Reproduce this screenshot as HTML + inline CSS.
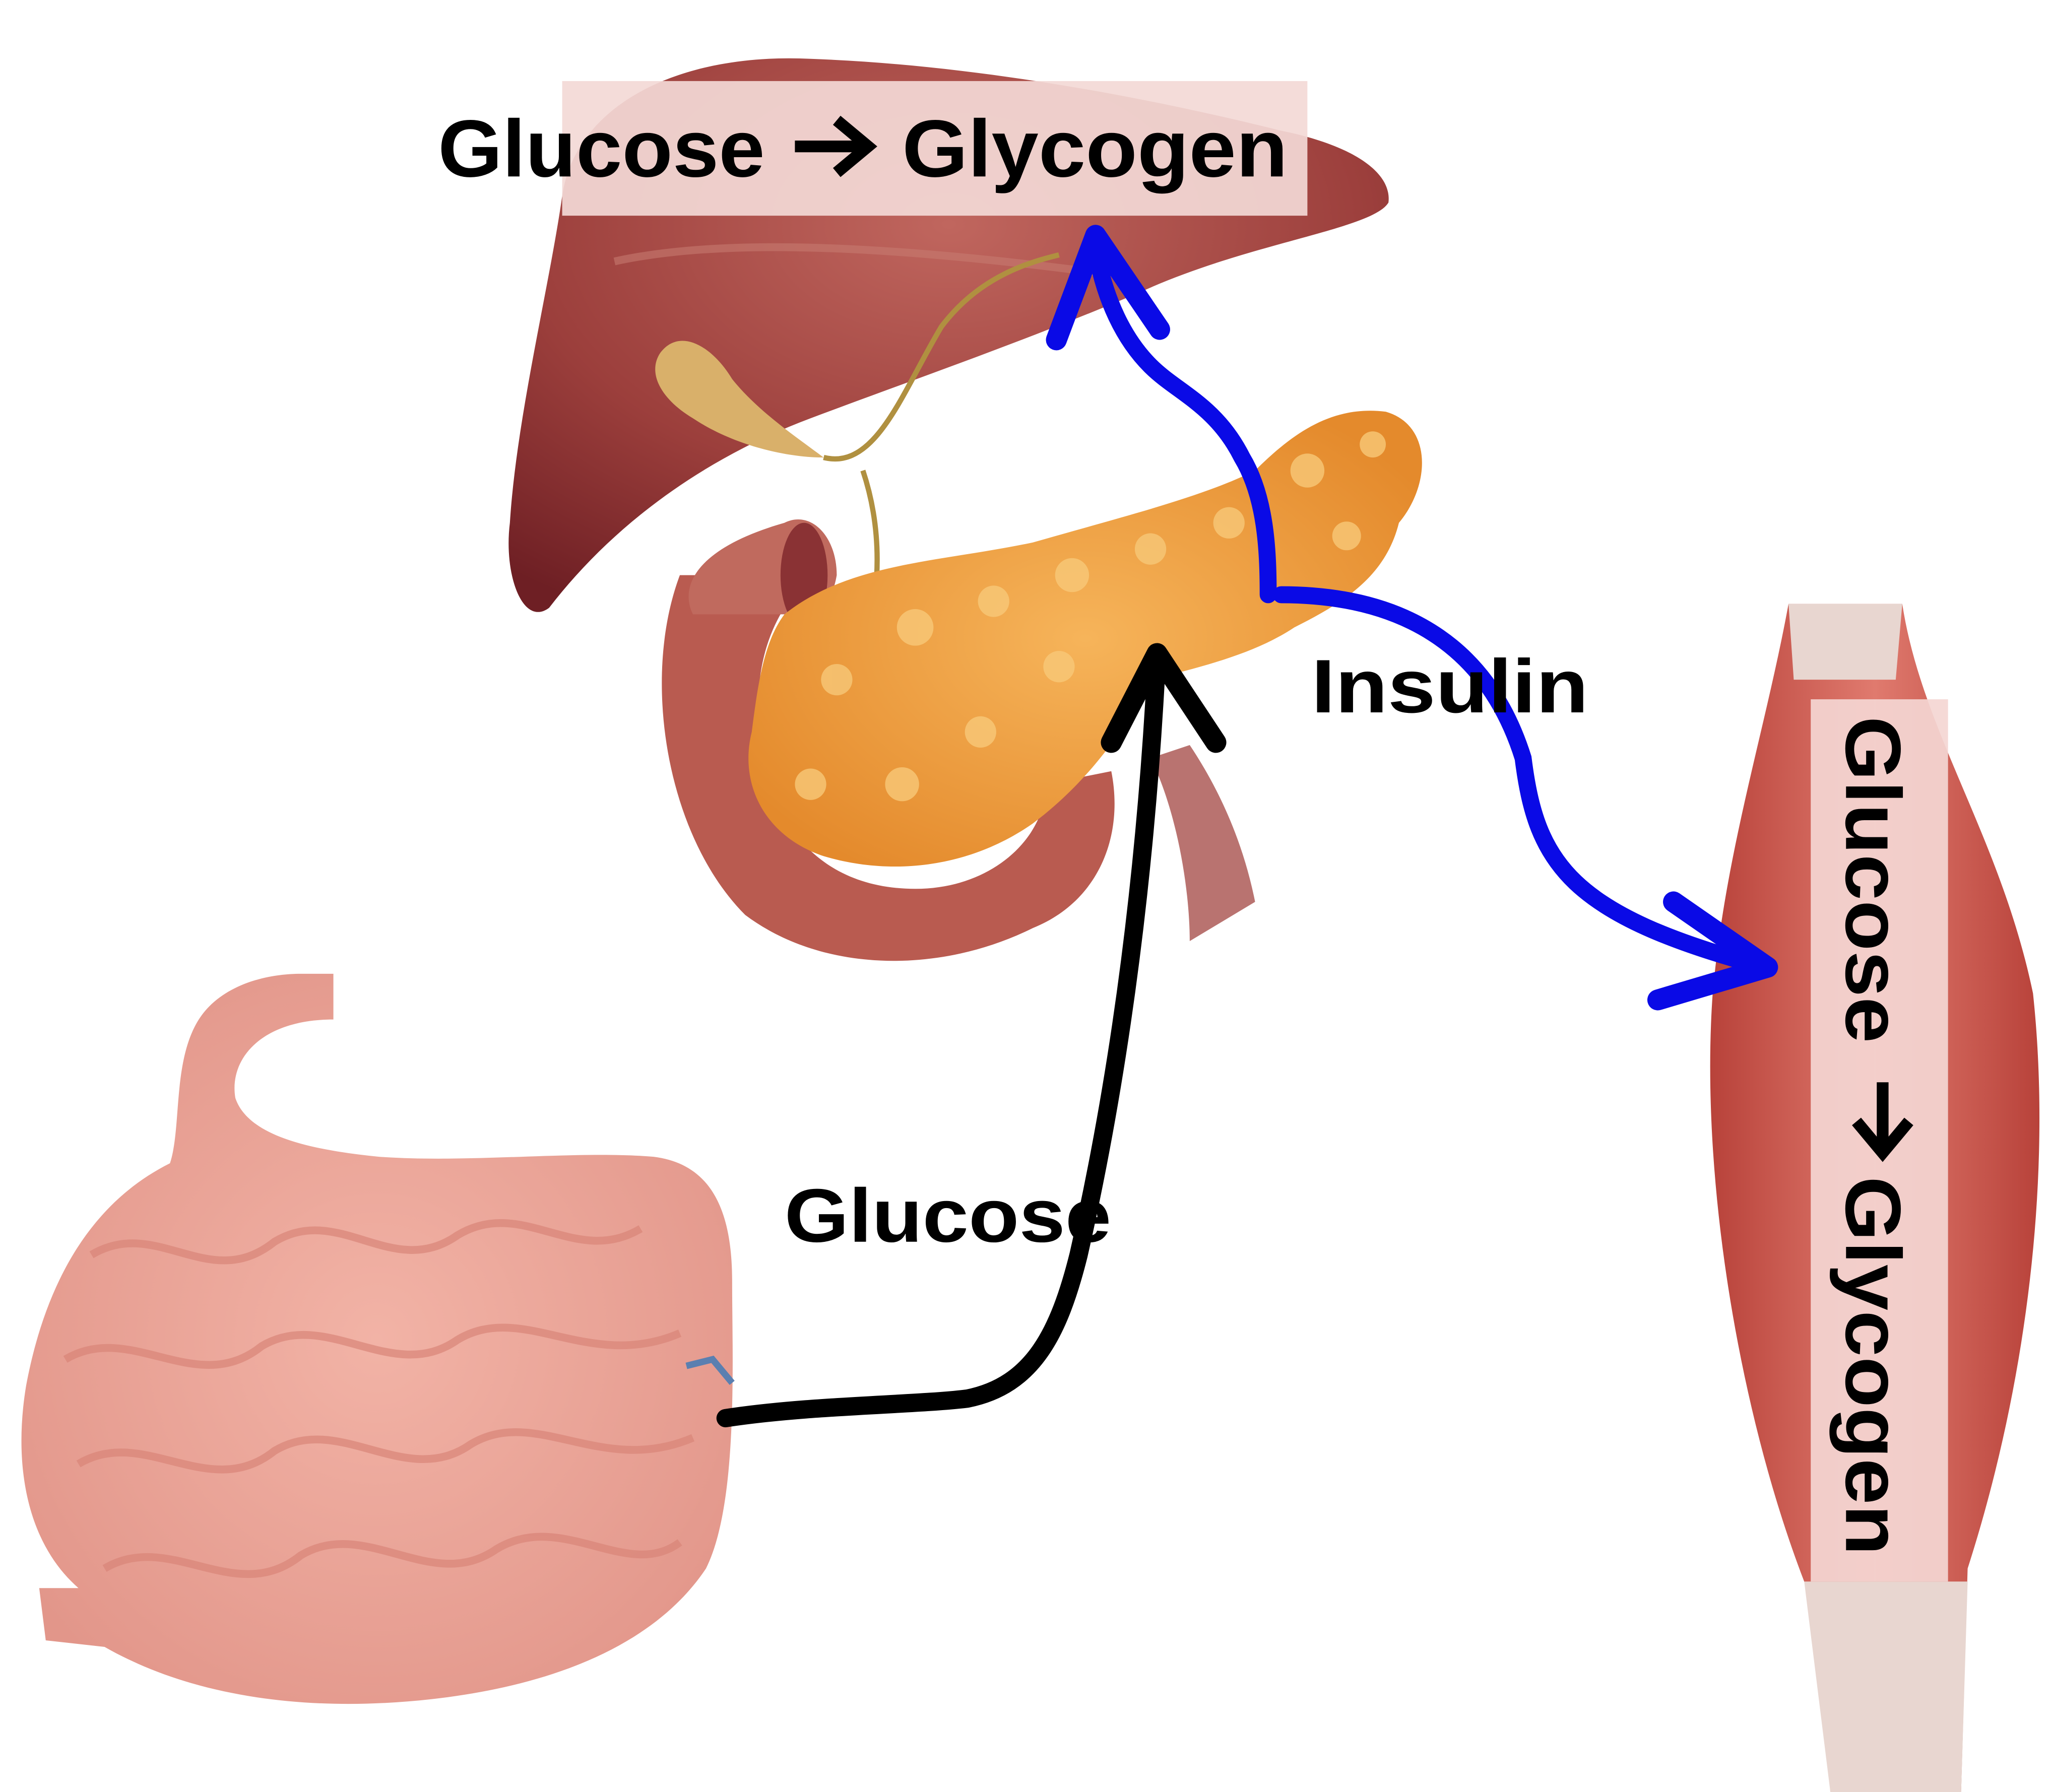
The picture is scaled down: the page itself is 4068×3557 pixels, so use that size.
<!DOCTYPE html>
<html><head><meta charset="utf-8">
<style>
html,body{margin:0;padding:0;background:#fff;}
svg{display:block;}
text{font-family:"Liberation Sans","DejaVu Sans",sans-serif;font-weight:bold;fill:#000;}
</style></head>
<body>
<svg width="4068" height="3557" viewBox="0 0 1568 1371" xmlns="http://www.w3.org/2000/svg">
<defs>
<radialGradient id="liv" cx="0.5" cy="0.3" r="0.8">
<stop offset="0" stop-color="#c0665e"/><stop offset="0.6" stop-color="#9c3f3c"/><stop offset="1" stop-color="#6e1f24"/>
</radialGradient>
<radialGradient id="pan" cx="0.5" cy="0.5" r="0.6">
<stop offset="0" stop-color="#f6b45a"/><stop offset="1" stop-color="#e48a2c"/>
</radialGradient>
<linearGradient id="mus" x1="0" x2="1">
<stop offset="0" stop-color="#b8423a"/><stop offset="0.5" stop-color="#e07a6e"/><stop offset="1" stop-color="#b8423a"/>
</linearGradient>
<radialGradient id="int" cx="0.5" cy="0.5" r="0.6">
<stop offset="0" stop-color="#f2b3a6"/><stop offset="1" stop-color="#e2968a"/>
</radialGradient>
</defs>

<!-- liver -->
<path d="M430 150 C440 80 520 40 620 45 C760 50 900 80 980 100 C1030 110 1065 130 1062 155 C1050 175 960 185 880 220 C800 255 700 290 620 320 C540 350 470 400 420 465 C400 480 385 440 390 400 C395 320 420 220 430 150 Z" fill="url(#liv)"/>
<path d="M470 200 C560 180 700 190 850 210" stroke="#c77a70" stroke-width="6" fill="none" opacity="0.6"/>
<!-- gallbladder -->
<path d="M505 270 C520 250 545 265 560 290 C580 315 610 335 630 350 C600 350 560 340 530 320 C505 305 495 285 505 270 Z" fill="#d9b06a"/>
<path d="M630 350 C670 360 690 300 720 250 C750 210 790 200 810 195" stroke="#b09040" stroke-width="4" fill="none"/>
<path d="M660 360 C680 420 670 480 650 530" stroke="#b09040" stroke-width="4" fill="none"/>

<!-- duodenum -->
<path d="M520 440 C490 520 510 640 570 700 C630 745 720 745 790 710 C840 690 860 640 850 590 L800 600 C800 640 760 680 700 680 C620 680 580 620 580 540 C580 490 600 460 620 440 Z" fill="#b95b50"/>
<path d="M600 400 C620 390 640 410 640 440 C635 470 615 480 600 470 L530 470 C520 450 530 420 600 400 Z" fill="#c06a5e"/>
<ellipse cx="615" cy="440" rx="18" ry="40" fill="#8a3234"/>
<path d="M880 580 C900 620 910 680 910 720 L960 690 C950 640 930 600 910 570 Z" fill="#a8504c" opacity="0.8"/>

<!-- pancreas -->
<path d="M600 470 C650 430 720 430 790 415 C860 395 920 380 960 360 C990 330 1020 310 1060 315 C1095 325 1095 370 1070 400 C1060 440 1030 460 990 480 C960 500 920 510 880 520 C860 560 830 600 790 630 C740 665 680 670 630 655 C585 640 565 600 575 560 C580 520 585 490 600 470 Z" fill="url(#pan)"/>
<g fill="#f7c878" opacity="0.8">
<circle cx="640" cy="520" r="12"/><circle cx="700" cy="480" r="14"/><circle cx="760" cy="460" r="12"/><circle cx="820" cy="440" r="13"/><circle cx="880" cy="420" r="12"/><circle cx="940" cy="400" r="12"/><circle cx="1000" cy="360" r="13"/><circle cx="1050" cy="340" r="10"/><circle cx="620" cy="600" r="12"/><circle cx="690" cy="600" r="13"/><circle cx="750" cy="560" r="12"/><circle cx="810" cy="510" r="12"/><circle cx="1030" cy="410" r="11"/>
</g>

<!-- liver label box -->
<rect x="430" y="62" width="570" height="103" fill="#f3d9d6" opacity="0.92"/>
<text x="335" y="135" font-size="62" textLength="250" lengthAdjust="spacingAndGlyphs">Glucose</text>
<path d="M608 112 L662 112 M640 92 L664 112 L640 132" stroke="#000" stroke-width="9" fill="none" stroke-linejoin="miter"/>
<text x="690" y="135" font-size="62" textLength="295" lengthAdjust="spacingAndGlyphs">Glycogen</text>

<!-- intestine -->
<path d="M230 745 L255 745 L255 780 C200 780 175 810 180 840 C190 870 240 880 290 885 C360 890 440 880 500 885 C540 890 560 920 560 980 C560 1040 565 1150 540 1200 C500 1260 420 1290 330 1300 C240 1310 150 1300 80 1260 L35 1255 L30 1215 L60 1215 C20 1180 10 1120 20 1060 C35 980 70 920 130 890 C140 860 130 800 160 770 C180 750 210 745 230 745 Z" fill="url(#int)"/>
<g stroke="#d98478" stroke-width="6" fill="none" opacity="0.7">
<path d="M70 960 C120 930 160 990 210 950 C260 920 300 980 350 945 C400 915 440 970 490 940"/>
<path d="M50 1040 C100 1010 150 1070 200 1030 C250 1000 300 1060 350 1025 C400 995 450 1050 520 1020"/>
<path d="M60 1120 C110 1090 160 1150 210 1110 C260 1080 310 1140 360 1105 C410 1075 460 1130 530 1100"/>
<path d="M80 1200 C130 1170 180 1230 230 1190 C280 1160 330 1220 380 1185 C430 1155 480 1210 520 1180"/>
</g>
<path d="M525 1045 L545 1040 L560 1058" stroke="#5a7fb0" stroke-width="5" fill="none"/>

<!-- muscle -->
<path d="M1368 462 L1455 462 C1470 560 1530 640 1555 760 C1570 900 1550 1060 1505 1200 L1500 1371 L1400 1371 C1395 1300 1390 1250 1380 1210 C1330 1080 1300 900 1310 760 C1320 650 1350 560 1368 462 Z" fill="url(#mus)"/>
<path d="M1368 462 L1455 462 L1450 520 L1372 520 Z" fill="#e8d6d0"/>
<path d="M1380 1210 L1505 1210 L1500 1371 L1400 1371 Z" fill="#e8d6d0"/>
<rect x="1385" y="535" width="105" height="675" fill="#f4d6d3" opacity="0.92"/>
<text transform="translate(1412 548) rotate(90)" font-size="60" textLength="250" lengthAdjust="spacingAndGlyphs">Glucose</text>
<path d="M1440 828 L1440 880 M1420 858 L1440 882 L1460 858" stroke="#000" stroke-width="9" fill="none"/>
<text transform="translate(1412 900) rotate(90)" font-size="60" textLength="290" lengthAdjust="spacingAndGlyphs">Glycogen</text>

<!-- black arrow -->
<path d="M555 1085 C620 1075 700 1075 740 1070 C790 1060 810 1020 825 960 C850 850 875 700 885 500" stroke="#000" stroke-width="14" fill="none" stroke-linecap="round"/>
<path d="M850 568 L885 500 L930 568" stroke="#000" stroke-width="16" fill="none" stroke-linecap="round" stroke-linejoin="round"/>
<text x="600" y="950" font-size="58" textLength="250" lengthAdjust="spacingAndGlyphs">Glucose</text>

<!-- blue arrows -->
<path d="M970 455 C970 420 968 380 950 350 C930 310 900 300 880 280 C860 260 845 230 838 190" stroke="#0a0ae6" stroke-width="13" fill="none" stroke-linecap="round"/>
<path d="M808 260 L838 180 L887 252" stroke="#0a0ae6" stroke-width="16" fill="none" stroke-linecap="round" stroke-linejoin="round"/>
<path d="M980 455 C1080 455 1140 500 1165 580 C1175 660 1200 700 1350 740" stroke="#0a0ae6" stroke-width="13" fill="none" stroke-linecap="round"/>
<path d="M1280 690 L1352 740 L1268 765" stroke="#0a0ae6" stroke-width="16" fill="none" stroke-linecap="round" stroke-linejoin="round"/>
<text x="1003" y="545" font-size="58" textLength="212" lengthAdjust="spacingAndGlyphs">Insulin</text>
</svg>
</body></html>
